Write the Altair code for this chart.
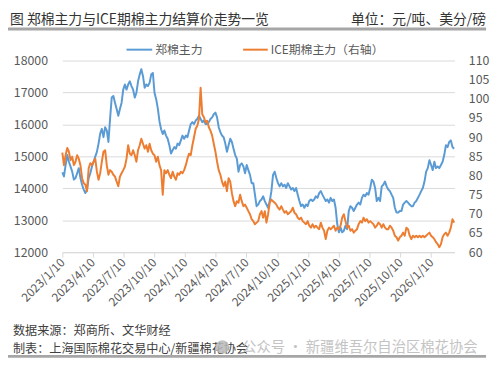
import altair as alt
import pandas as pd

FONT = "Noto Sans CJK SC"

# 郑棉主力 (元/吨), sampled along the x axis from 2023-01-10 to 2026-03-19
zheng = [
    14500, 14370, 14730, 15040, 14830, 14680, 14520, 14270, 14320, 14470,
    14630, 14320, 14110, 13960, 13850, 13960, 14320, 14470, 14680, 14830,
    14990, 15140, 15400, 15710, 15860, 15600, 15910, 15810, 15450, 16170,
    16840, 16890, 16680, 16480, 16270, 16480, 16680, 17090, 17250, 17090,
    17250, 17350, 17200, 17090, 16840, 16990, 17350, 17560, 17730, 17510,
    17150, 17250, 17200, 17300, 17560, 17610, 16990, 16790, 16500, 16100,
    15850, 15700,
    15810, 15650, 15550, 15350, 15090, 15190, 15290, 15240, 15400, 15350,
    15500, 15650, 15550, 15650, 15600, 15810, 16010, 16070, 16010, 16120,
    16170, 16270, 16170, 16070, 16120, 16010, 16010, 16070, 16170, 16220,
    16320, 16370, 16220, 15910, 15760, 15650, 15600, 15400, 15140, 15350,
    15550, 15450, 15240, 15040, 14930, 14520, 14730, 14780, 14680, 14470,
    14730, 14570, 14420, 14160, 14160, 13800, 13440, 13490, 13600, 13650,
    13750, 13600, 13490, 13390, 13600, 13910, 14420, 14520, 14320, 14160,
    14060, 14160, 14060, 14110, 14010, 14160, 14060, 13960, 14010, 13910,
    14010, 13800, 13600, 13440, 13490, 13390, 13490, 13440, 13600, 13650,
    13600, 13650, 13750, 13700, 13850, 13910, 13800, 13700, 13600, 13650,
    13550, 13700, 13600, 13650, 13390, 12880, 12620, 12770, 12620, 12670,
    12830, 12720, 13290, 13440, 13390, 13290, 13390, 13490, 13550, 13490,
    13700, 13800, 13750, 13850, 13800, 14010, 14270, 14210, 14010, 13600,
    13700, 13600, 14060, 14110, 14210, 14060, 13960, 13910, 13800, 13700,
    13390, 13240, 13240, 13290, 13290, 13490, 13550, 13600, 13550, 13490,
    13440, 13440, 13550, 13600, 13700, 13800, 13910, 14010, 14210, 14520,
    14630, 14880, 14730, 14570, 14830, 14630, 14680, 14630, 14730, 14830,
    15040, 15350, 15290, 15450, 15500, 15290, 15240,
]

# ICE期棉主力 (美分/磅), same sample positions
ice = [
    86.0, 82.7, 85.3, 87.2, 86.2, 84.0, 84.9, 82.7, 83.6, 85.3,
    84.4, 82.7, 79.3, 78.0, 77.6, 75.9, 81.9, 83.2, 82.7, 83.6,
    84.4, 81.0, 78.9, 80.6, 83.6, 86.2, 86.6, 82.7, 80.2, 81.4,
    81.0, 80.2, 79.7, 78.4, 77.2, 79.7, 80.6, 81.4, 82.3, 84.4,
    87.9, 85.7, 85.3, 86.6, 85.3, 83.6, 86.6, 87.9, 89.6, 88.3,
    87.0, 87.9, 86.2, 88.3, 86.6, 85.7, 85.3, 83.6, 84.9, 82.7,
    81.4, 75.0,
    81.4, 80.6, 81.4, 80.2, 79.3, 81.0, 79.7, 78.9, 80.6, 80.2,
    81.0, 80.6, 81.4, 82.7, 84.4, 85.7, 85.3, 87.9, 90.0, 92.2,
    93.0, 94.7, 102.9, 96.0, 95.2, 93.9, 94.3, 92.6, 91.7, 90.4,
    88.3, 86.2, 83.6, 81.4, 80.2, 78.4, 77.2, 78.4, 75.9, 79.3,
    78.4, 75.4, 73.3, 72.0, 73.3, 72.9, 75.0, 73.3, 72.0, 72.4,
    71.6, 70.7, 69.9, 68.6, 68.1, 67.3, 67.7, 68.1, 69.9, 70.7,
    69.0, 70.7, 67.7, 69.9, 72.9, 73.7, 73.3, 72.9, 72.4, 71.6,
    71.1, 72.0, 71.1, 70.3, 70.7, 69.9, 70.3, 70.7, 71.6, 70.3,
    69.9, 69.0, 68.6, 69.0, 68.1, 67.7, 67.3, 68.1, 66.9, 66.4,
    67.3, 66.4, 66.9, 66.4, 66.0, 67.7, 66.4, 65.6, 63.4, 65.6,
    66.4, 66.0, 66.4, 66.9, 65.6, 66.4, 66.0, 66.9, 69.0, 69.9,
    68.1, 66.4, 66.9, 65.6, 66.0, 65.1, 65.6, 66.0, 67.3, 68.1,
    67.7, 69.0, 68.1, 68.6, 67.7, 68.1, 67.7, 67.3, 66.4, 66.9,
    67.7, 67.3, 66.4, 67.3, 66.4, 66.0, 66.0, 66.9, 66.4, 65.6,
    64.3, 63.9, 63.0, 63.9, 64.3, 65.1, 64.3, 66.4, 66.0, 64.3,
    63.4, 64.3, 63.9, 64.3, 63.9, 64.3, 63.9, 64.3, 63.9, 64.3,
    64.7, 65.1, 64.3, 63.9, 63.4, 62.6, 62.1, 61.3, 62.1, 63.9,
    64.7, 65.1, 64.3, 65.1, 66.4, 68.6, 67.7,
]

first_date = "2023-01-10"
last_date = "2026-03-19"
x_domain_end = "2026-03-20"

x_tick_labels = [
    "2023/1/10", "2023/4/10", "2023/7/10", "2023/10/10",
    "2024/1/10", "2024/4/10", "2024/7/10", "2024/10/10",
    "2025/1/10", "2025/4/10", "2025/7/10", "2025/10/10",
    "2026/1/10",
]
left_ticks = [12000, 13000, 14000, 15000, 16000, 17000, 18000]
right_ticks = [60, 65, 70, 75, 80, 85, 90, 95, 100, 105, 110]

series_names = ["郑棉主力", "ICE期棉主力（右轴）"]
series_colors = ["#5B9BD5", "#ED7D31"]

title_text = "图 郑棉主力与ICE期棉主力结算价走势一览"
unit_text = "单位：元/吨、美分/磅"
source_text = "数据来源：郑商所、文华财经"
maker_text = "制表：上海国际棉花交易中心/新疆棉花协会"
watermark_text = "公众号 · 新疆维吾尔自治区棉花协会"

dates = pd.date_range(first_date, last_date, periods=len(zheng))
df_z = pd.DataFrame({"date": dates, "value": zheng})
df_i = pd.DataFrame({"date": dates, "value": ice})


def dt(s):
    y, m, d = [int(p) for p in s.replace("-", "/").split("/")]
    return alt.DateTime(year=y, month=m, date=d)


x_scale = alt.Scale(domain=[dt(first_date), dt(x_domain_end)])
x_axis = alt.Axis(values=[dt(s) for s in x_tick_labels], format="%Y/%-m/%-d",
                  labelAngle=-45, labelAlign="right", labelBaseline="middle",
                  labelPadding=3, tickSize=5, tickColor="#d9d9d9",
                  domainColor="#d9d9d9", grid=False, labelFontSize=12,
                  labelColor="#595959", labelFont=FONT, labelOverlap=False)
x_enc = alt.X("date:T", scale=x_scale, title=None, axis=x_axis)

blue = alt.Chart(df_z).mark_line(color=series_colors[0], strokeWidth=2, strokeJoin="round").encode(
    x=x_enc,
    y=alt.Y("value:Q", scale=alt.Scale(domain=[12000, 18000], nice=False, zero=False), title=None,
            axis=alt.Axis(values=left_ticks, grid=True, gridColor="#d9d9d9", domain=False, ticks=False,
                          labelPadding=15, labelFontSize=12.5, labelColor="#595959", labelFont=FONT,
                          format="d")),
)

orange = alt.Chart(df_i).mark_line(color=series_colors[1], strokeWidth=2, strokeJoin="round").encode(
    x=x_enc,
    y=alt.Y("value:Q", scale=alt.Scale(domain=[60, 110], nice=False, zero=False), title=None,
            axis=alt.Axis(orient="right", values=right_ticks, grid=False, domain=False, ticks=False,
                          labelPadding=14, labelFontSize=12.5, labelColor="#595959", labelFont=FONT,
                          labelAlign="left")),
)

one = pd.DataFrame({"a": [0]})


def txt(s, x, y, size, color, align="left"):
    return alt.Chart(one).mark_text(text=s, fontSize=size, color=color, align=align,
                                    baseline="middle", font=FONT).encode(
        x=alt.value(x), y=alt.value(y))


def hline(x1, x2, y, color, w):
    return alt.Chart(one).mark_rule(color=color, strokeWidth=w).encode(
        x=alt.value(x1), x2=alt.value(x2), y=alt.value(y))


annotations = [
    txt(title_text, -53, -41, 14, "#333333"),
    txt(unit_text, 429, -41, 14, "#333333", align="right"),
    hline(-55, 429, -32, "#a6a6a6", 3),
    hline(65, 91, -11, series_colors[0], 2),
    txt(series_names[0], 94, -11, 12, "#595959"),
    hline(183, 208, -11, series_colors[1], 2),
    txt(series_names[1], 211, -11, 12, "#595959"),
    txt(source_text, -50, 274, 12.3, "#404040"),
    txt(maker_text, -50, 292, 12.3, "#404040"),
    alt.Chart(one).mark_point(shape="circle", filled=True, size=190, color="#b8b8b8", opacity=0.85).encode(
        x=alt.value(162), y=alt.value(290)),
    txt(watermark_text, 182, 291, 14.5, "#c4c4c4"),
    hline(-55, 429, 299.5, "#a6a6a6", 3),
]

chart = alt.layer(blue, orange, *annotations).resolve_scale(y="independent").properties(
    width=397, height=194,
    padding={"left": 55, "top": 51, "right": 38, "bottom": 107},
    autosize=alt.AutoSizeParams(type="none"),
    background="white",
).configure_view(strokeWidth=0)

chart.save("out.html", embed_options={"renderer": "svg", "actions": False})
